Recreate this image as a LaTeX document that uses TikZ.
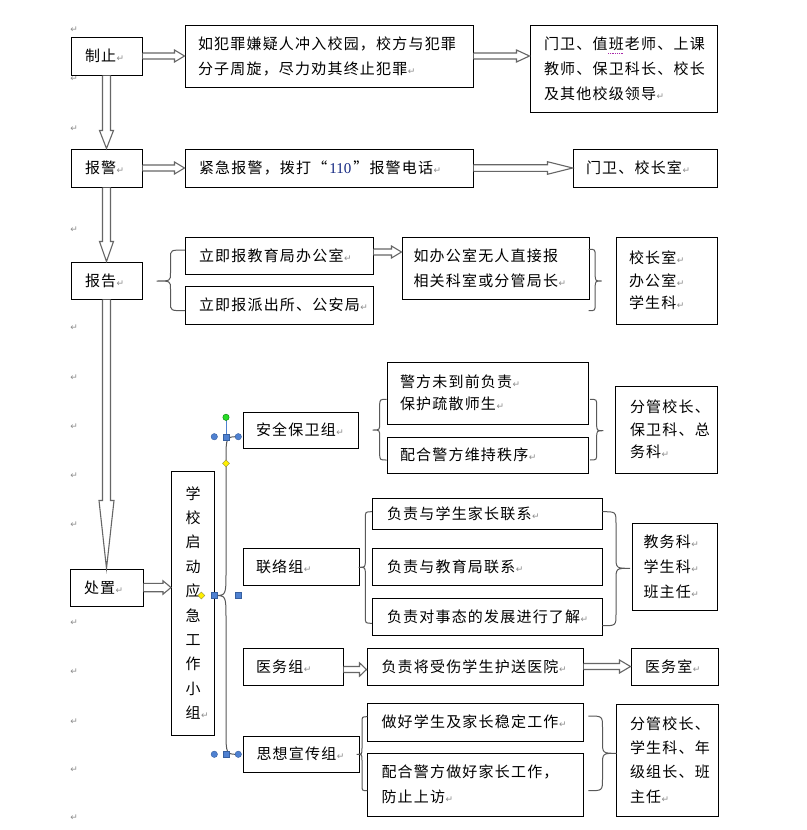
\documentclass[tikz,border=0pt]{standalone}
\usepackage{fontspec}
\setmainfont{Noto Sans CJK SC}[LetterSpace=8]
\newfontfamily\dejavu{DejaVu Sans}
\newfontfamily\tnr{Liberation Serif}
\usetikzlibrary{calc}
\definecolor{hblue}{RGB}{79,129,209}
\definecolor{hblueD}{RGB}{55,96,160}
\definecolor{hgreen}{RGB}{40,220,40}
\definecolor{hyellow}{RGB}{255,240,0}
\definecolor{navyt}{RGB}{20,40,130}
\newcommand\pmk{\nobreak\hspace{0.5pt}\nobreak{\dejavu\fontsize{9}{9}\selectfont\color{black!45}↵}}
\newcommand\rarr[5]{\draw[barrow] ($(#1)+(0,-#3)$) -- ($(#2)+(-#5,-#3)$) -- ($(#2)+(-#5,-#4)$) -- (#2) -- ($(#2)+(-#5,#4)$) -- ($(#2)+(-#5,#3)$) -- ($(#1)+(0,#3)$);}
\newcommand\darr[5]{\draw[barrow] ($(#1)+(-#3,0)$) -- ($(#2)+(-#3,-#5)$) -- ($(#2)+(-#4,-#5)$) -- (#2) -- ($(#2)+(#4,-#5)$) -- ($(#2)+(#3,-#5)$) -- ($(#1)+(#3,0)$);}
\newcommand\brc[7]{\draw[brcs] (#1,#4) .. controls (#2,#4) .. (#2,#4+#7) -- (#2,#5-#7) .. controls (#2,#5) .. (#3,#5) .. controls (#2,#5) .. (#2,#5+#7) -- (#2,#6-#7) .. controls (#2,#6) .. (#1,#6);}
\tikzset{
  bx/.style={draw=black, line width=1pt, inner ysep=0pt, align=left, font=\fontsize{15}{25}\selectfont},
  barrow/.style={draw=black!60, line width=1.1pt, fill=white, line join=miter},
  brcs/.style={draw=black!65, line width=1pt},
  pm/.style={inner sep=0pt},
  hdl/.style={fill=hblue, draw=hblueD, line width=0.4pt},
  ydia/.style={fill=hyellow, draw=black!50!yellow, line width=0.4pt},
}
\begin{document}
\begin{tikzpicture}[x=1pt,y=-1pt]
\fill[white] (0,0) rectangle (806,830);
\useasboundingbox (0,0) rectangle (806,830);

% left column paragraph marks
\foreach \yy [count=\i] in {30,79,129,230,328,378,427,476,525,623,672,722,770,818}
  \node[pm] (pl\i) at (74,\yy) {\pmk};

% main column
\node[bx, minimum width=71pt, minimum height=38pt, inner xsep=14pt, text width=43pt] (zhi) at (106.5,56) {制止\pmk};
\node[bx, minimum width=71pt, minimum height=38pt, inner xsep=14pt, text width=43pt] (baojing) at (106.5,168) {报警\pmk};
\node[bx, minimum width=71pt, minimum height=37pt, inner xsep=14pt, text width=43pt] (baogao) at (106.5,280.5) {报告\pmk};
\node[bx, minimum width=73pt, minimum height=37pt, inner xsep=14pt, text width=45pt] (chuzhi) at (106.5,587.5) {处置\pmk};

% row 1
\node[bx, minimum width=288pt, minimum height=62pt, inner xsep=13pt, text width=262pt] (b1) at (329,56) {如犯罪嫌疑人冲入校园，校方与犯罪\\分子周旋，尽力劝其终止犯罪\pmk};
\node[bx, minimum width=187pt, minimum height=87pt, inner xsep=14pt, text width=159pt] (b3) at (623.5,68.5) {门卫、值班老师、上课\\教师、保卫科长、校长\\及其他校级领导\pmk};
\draw[densely dotted, color={rgb,255:red,170;green,40;blue,170}, line width=0.8pt] (608,53.5) -- (624,53.5);

% row 2
\node[bx, minimum width=288pt, minimum height=38pt, inner xsep=14pt, text width=260pt] (b4) at (329,168) {紧急报警，拨打“\hspace{2pt}{\tnr\color{navyt}110}\hspace{2pt}”报警电话\pmk};
\node[bx, minimum width=144pt, minimum height=38pt, inner xsep=13pt, text width=118pt] (b5) at (645,168) {门卫、校长室\pmk};

% row 3
\node[bx, minimum width=188pt, minimum height=37pt, inner xsep=14pt, text width=160pt] (j1) at (279,255.5) {立即报教育局办公室\pmk};
\node[bx, minimum width=188pt, minimum height=38pt, inner xsep=14pt, text width=160pt] (j2) at (279,305) {立即报派出所、公安局\pmk};
\node[bx, minimum width=187pt, minimum height=62pt, inner xsep=11.5pt, text width=164pt] (ru) at (495.5,268) {如办公室无人直接报\\相关科室或分管局长\pmk};
\node[bx, minimum width=101pt, minimum height=87pt, inner xsep=13pt, text width=75pt, font=\fontsize{15}{22.5}\selectfont] (xz) at (666.5,280.5) {校长室\pmk\\办公室\pmk\\学生科\pmk};

% emergency group
\node[draw, line width=1pt, minimum width=43pt, minimum height=264pt, inner sep=0pt, align=center, font=\fontsize{15}{24.4}\selectfont] (xiaozu) at (193,603) {学\\校\\启\\动\\应\\急\\工\\作\\小\\组\rlap{\pmk}};

% security group
\node[bx, minimum width=115pt, minimum height=36pt, inner xsep=13pt, text width=89pt] (aq) at (300.5,430) {安全保卫组\pmk};
\node[bx, minimum width=201pt, minimum height=62pt, inner xsep=13pt, text width=175pt, font=\fontsize{15}{22}\selectfont] (jf1) at (487.5,393) {警方未到前负责\pmk\\保护疏散师生\pmk};
\node[bx, minimum width=201pt, minimum height=36pt, inner xsep=13pt, text width=175pt] (jf2) at (487.5,455) {配合警方维持秩序\pmk};
\node[bx, minimum width=102pt, minimum height=87pt, inner xsep=15pt, text width=72pt, font=\fontsize{15}{22.5}\selectfont] (fg1) at (666,429.5) {分管校长、\\保卫科、总\\务科\pmk};

% liaison group
\node[bx, minimum width=116pt, minimum height=37pt, inner xsep=12.7pt, text width=90pt] (ll) at (301,566.5) {联络组\pmk};
\node[bx, minimum width=230pt, minimum height=31pt, inner xsep=14.7pt, text width=200pt] (f1) at (487,513.5) {负责与学生家长联系\pmk};
\node[bx, minimum width=230pt, minimum height=37pt, inner xsep=14.7pt, text width=200pt] (f2) at (487,566.5) {负责与教育局联系\pmk};
\node[bx, minimum width=230pt, minimum height=37pt, inner xsep=14.7pt, text width=200pt] (f3) at (487,616.5) {负责对事态的发展进行了解\pmk};
\node[bx, minimum width=85pt, minimum height=87pt, inner xsep=11.5pt, text width=62pt] (jw) at (674.5,566.5) {教务科\pmk\\学生科\pmk\\班主任\pmk};

% medical group
\node[bx, minimum width=100pt, minimum height=37pt, inner xsep=13pt, text width=74pt] (yw) at (293,666.5) {医务组\pmk};
\node[bx, minimum width=216pt, minimum height=37pt, inner xsep=14.5pt, text width=187pt] (hs) at (475,666.5) {负责将受伤学生护送医院\pmk};
\node[bx, minimum width=87pt, minimum height=37pt, inner xsep=14pt, text width=59pt] (yws) at (674.5,666.5) {医务室\pmk};

% propaganda group
\node[bx, minimum width=116pt, minimum height=36pt, inner xsep=13.5pt, text width=89pt] (sx) at (301,754) {思想宣传组\pmk};
\node[bx, minimum width=216pt, minimum height=38pt, inner xsep=14.5pt, text width=187pt] (zh1) at (475,722) {做好学生及家长稳定工作\pmk};
\node[bx, minimum width=216pt, minimum height=63pt, inner xsep=14.5pt, text width=187pt] (zh2) at (475,784.5) {配合警方做好家长工作，\\防止上访\pmk};
\node[bx, minimum width=102pt, minimum height=112pt, inner xsep=14pt, text width=74pt, font=\fontsize{15}{24.4}\selectfont] (fg2) at (667,760) {分管校长、\\学生科、年\\级组长、班\\主任\pmk};

% block arrows (horizontal)
\coordinate (a1e) at (zhi.east -| b1.west);
\rarr{zhi.east}{a1e}{3}{6}{10}
\coordinate (a2e) at (b1.east -| b3.west);
\rarr{b1.east}{a2e}{3}{6}{13}
\coordinate (a3e) at (baojing.east -| b4.west);
\rarr{baojing.east}{a3e}{3}{6}{10}
\coordinate (a4e) at (b4.east -| b5.west);
\rarr{b4.east}{a4e}{3.3}{6.3}{25}
\coordinate (a5s) at ($(j1.east)+(0,-3.5)$);
\coordinate (a5e) at (a5s -| ru.west);
\rarr{a5s}{a5e}{3}{6}{10}
\coordinate (a6e) at (chuzhi.east -| xiaozu.west);
\rarr{chuzhi.east}{a6e}{4.2}{6.7}{8}
\coordinate (a7s) at ($(yw.east)+(0,3)$);
\coordinate (a7e) at (a7s -| hs.west);
\rarr{a7s}{a7e}{3}{6.7}{7}
\coordinate (a8e) at (hs.east -| yws.west);
\rarr{hs.east}{a8e}{3}{6.5}{11}

% block arrows (vertical)
\darr{zhi.south}{baojing.north}{4}{7}{18}
\darr{baojing.south}{baogao.north}{4}{7}{20}
\darr{baogao.south}{chuzhi.north}{4}{7.5}{68}

% braces
\brc{185}{170.5}{156.7}{250}{281}{310.7}{8}
\brc{588.7}{595.2}{601.7}{249.3}{281}{310.7}{7}
\brc{386.7}{379.7}{372.7}{399.3}{430}{460}{7}
\brc{590}{596.7}{603.3}{399.3}{430.7}{460}{7}
\brc{238.3}{226}{214.3}{436.7}{595.5}{754.3}{24}
\brc{372}{365.3}{358.7}{511.7}{567.3}{623.3}{7}
\brc{602.3}{616}{630}{511.7}{568.3}{625.7}{12}
\brc{367.3}{362}{356.7}{716.7}{754.3}{790.7}{6}
\brc{588.3}{602.5}{616.7}{716}{753.3}{790.7}{12}

% selection handles of the large brace
\draw[hblue, line width=0.8pt] (226,417.3) -- (226,436.7);
\filldraw[fill=hgreen, draw=green!50!black, line width=0.4pt] (226,417.3) circle (3.2);
\filldraw[hdl] (214.3,436.7) circle (3.2);
\filldraw[hdl] (238.3,436.7) circle (3.2);
\filldraw[hdl] (214.3,754.3) circle (3.2);
\filldraw[hdl] (238.3,754.3) circle (3.2);
\filldraw[hdl] (223,433.7) rectangle (229,439.7);
\filldraw[hdl] (223,751.3) rectangle (229,757.3);
\filldraw[hdl] (211.3,592.5) rectangle (217.3,598.5);
\filldraw[hdl] (235.3,592.5) rectangle (241.3,598.5);
\filldraw[ydia] (226,459.8) -- (229.5,463.3) -- (226,466.8) -- (222.5,463.3) -- cycle;
\filldraw[ydia] (201.3,592) -- (204.8,595.5) -- (201.3,599) -- (197.8,595.5) -- cycle;
\end{tikzpicture}
\end{document}
